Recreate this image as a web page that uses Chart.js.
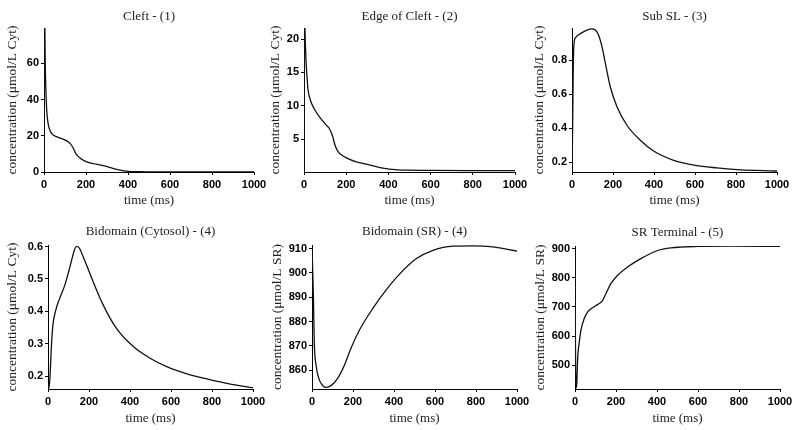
<!DOCTYPE html>
<html>
<head>
<meta charset="utf-8">
<style>
  html, body { margin: 0; padding: 0; background: #fff; }
  #wrap { position: relative; width: 800px; height: 430px; overflow: hidden; background: #fff; }
  #wrap canvas { position: absolute; }
</style>
<script src="https://cdn.jsdelivr.net/npm/chart.js@4.4.0/dist/chart.umd.min.js"></script>
</head>
<body>
<div id="wrap"></div>
<script>
// shared x axis
const timeTicks = [0, 200, 400, 600, 800, 1000];

// (1) cleft
const cleftTime = [0, 2, 4, 6, 9, 13, 18, 25, 38, 62, 93, 109, 125, 138, 149, 160, 180, 200, 250, 300, 346, 400, 450, 500, 600, 800, 1000];
const cleftConc = [0, 120, 80, 60, 45, 34, 28, 24, 21, 19.4, 18, 17.2, 15.7, 13.5, 10.7, 8.9, 7.0, 5.7, 4.3, 3.0, 1.5, 0.4, 0.15, 0.08, 0.05, 0.04, 0.03];
const cleftTicks = [0, 20, 40, 60];

// (2) edge of cleft
const edgeTime = [0, 2, 5, 8, 11, 15, 19, 27, 35, 51, 74, 106, 120, 135, 148, 160, 175, 201, 248, 304, 367, 446, 500, 600, 800, 1000];
const edgeConc = [0.1, 26, 21, 18, 15.9, 14, 12.4, 11.2, 10.4, 9.4, 8.3, 7.1, 6.6, 5.5, 4.0, 3.2, 2.7, 2.2, 1.6, 1.2, 0.7, 0.4, 0.35, 0.32, 0.3, 0.3];
const edgeTicks = [5, 10, 15, 20];

// (3) sub SL
const subTime = [0, 3, 6, 10, 18, 41, 73, 98, 122, 138, 150, 163, 187, 220, 268, 333, 400, 496, 602, 707, 805, 900, 1000];
const subConc = [0.15, 0.4, 0.75, 0.9, 0.935, 0.957, 0.978, 0.985, 0.967, 0.918, 0.86, 0.78, 0.643, 0.525, 0.418, 0.33, 0.265, 0.212, 0.182, 0.167, 0.157, 0.152, 0.149];
const subTicks = [0.2, 0.4, 0.6, 0.8];

// (4) bidomain cytosol
const cytTime = [0, 5, 10, 16, 24, 38, 57, 82, 106, 118, 128, 137, 146, 156, 168, 188, 220, 269, 334, 416, 498, 579, 677, 775, 890, 1000];
const cytConc = [0.175, 0.163, 0.2, 0.286, 0.358, 0.404, 0.44, 0.481, 0.535, 0.565, 0.588, 0.6, 0.6, 0.592, 0.574, 0.543, 0.492, 0.42, 0.347, 0.291, 0.255, 0.229, 0.207, 0.191, 0.175, 0.164];
const cytTicks = [0.2, 0.3, 0.4, 0.5, 0.6];

// (4) bidomain SR
const srTime = [0, 3, 7, 11, 20, 33, 52, 68, 93, 125, 158, 190, 231, 296, 362, 427, 508, 590, 687, 785, 883, 1000];
const srConc = [910.5, 902, 889.5, 871.6, 862, 856.6, 853.6, 852.9, 853.6, 856.6, 862, 869, 876.4, 885.3, 893.0, 899.5, 905.8, 909.3, 911, 911.1, 910.7, 909];
const srTicks = [860, 870, 880, 890, 900, 910];

// (5) SR terminal
const termTime = [0, 2, 5, 9, 13, 21, 29, 45, 62, 78, 110, 135, 151, 175, 208, 256, 321, 403, 468, 597, 760, 1000];
const termConc = [906, 600, 421, 440, 523, 580, 620, 660, 683, 694, 708, 723, 746, 780, 809, 837, 866, 894, 903, 908, 909, 908];
const termTicks = [500, 600, 700, 800, 900];

const SERIF = '"Liberation Serif", "Times New Roman", serif';
const SANS = '"Liberation Sans", Arial, sans-serif';

// room around each plot area inside its canvas
const YW = 50, XH = 45, TH = 30, PR = 22;

const panels = [
  { title: 'Cleft - (1)', time: cleftTime, conc: cleftConc, ticks: cleftTicks, min: 0, max: 79.5,
    unit: 'concentration (μmol/L Cyt)', box: [44, 28, 254, 172], titleGap: 11.6, yGap: 31.5, xGap: 28.3 },
  { title: 'Edge of Cleft - (2)', time: edgeTime, conc: edgeConc, ticks: edgeTicks, min: 0.08, max: 21.65,
    unit: 'concentration (μmol/L Cyt)', box: [304, 28, 515, 172], titleGap: 11.6, yGap: 29, xGap: 28.3 },
  { title: 'Sub SL - (3)', time: subTime, conc: subConc, ticks: subTicks, min: 0.143, max: 0.99,
    unit: 'concentration (μmol/L Cyt)', box: [572, 28, 777, 172], titleGap: 11.6, yGap: 33, xGap: 28.3 },
  { title: 'Bidomain (Cytosol) - (4)', time: cytTime, conc: cytConc, ticks: cytTicks, min: 0.16, max: 0.605,
    unit: 'concentration (μmol/L Cyt)', box: [48, 245, 253, 389], titleGap: 13.3, yGap: 35.5, xGap: 29.3 },
  { title: 'Bidomain (SR) - (4)', time: srTime, conc: srConc, ticks: srTicks, min: 852.2, max: 911.5,
    unit: 'concentration (μmol/L SR)', box: [312, 245, 517, 389], titleGap: 13.3, yGap: 35, xGap: 29.3 },
  { title: 'SR Terminal - (5)', time: termTime, conc: termConc, ticks: termTicks, min: 418, max: 909.5,
    unit: 'concentration (μmol/L SR)', box: [575, 246, 780, 389], titleGap: 13.3, yGap: 35, xGap: 29.3 },
];

const wrap = document.getElementById('wrap');

function makePanel(p) {
  const [L, T, R, B] = p.box;
  const w = R - L + YW + PR;
  const h = B - T + TH + XH;
  const canvas = document.createElement('canvas');
  canvas.width = w;
  canvas.height = h;
  canvas.style.left = (L - YW) + 'px';
  canvas.style.top = (T - TH) + 'px';
  canvas.style.width = w + 'px';
  canvas.style.height = h + 'px';
  wrap.appendChild(canvas);

  const points = p.time.map((t, i) => ({ x: t, y: p.conc[i] }));

  return new Chart(canvas, {
    type: 'line',
    data: {
      datasets: [{
        data: points,
        borderColor: '#111',
        borderWidth: 1.3,
        pointRadius: 0,
        fill: false,
        cubicInterpolationMode: 'monotone',
      }],
    },
    options: {
      responsive: false,
      animation: false,
      devicePixelRatio: 1,
      layout: { padding: { left: 0, top: 0, right: PR, bottom: 0 } },
      plugins: {
        legend: { display: false },
        tooltip: { enabled: false },
        title: {
          display: true,
          text: p.title,
          fullSize: false,
          color: '#222',
          font: { family: SERIF, size: 13, weight: 'normal', lineHeight: 1.2 },
          padding: { top: TH - p.titleGap - 7.8, bottom: p.titleGap - 7.8 },
        },
      },
      scales: {
        x: {
          type: 'linear',
          min: 0,
          max: 1000,
          afterBuildTicks: (s) => { s.ticks = timeTicks.map((v) => ({ value: v })); },
          afterFit: (s) => { s.height = XH; },
          ticks: {
            autoSkip: false,
            maxRotation: 0,
            padding: 3,
            color: '#000',
            font: { family: SANS, size: 11, weight: 'bold' },
            callback: (v) => String(v),
          },
          grid: { drawOnChartArea: false, tickLength: 3, color: '#000' },
          border: { color: '#000', width: 1 },
          title: {
            display: true,
            text: 'time (ms)',
            color: '#222',
            font: { family: SERIF, size: 13, lineHeight: 1.2 },
            padding: { top: 0, bottom: XH - p.xGap - 7.8 },
          },
        },
        y: {
          type: 'linear',
          min: p.min,
          max: p.max,
          afterBuildTicks: (s) => { s.ticks = p.ticks.map((v) => ({ value: v })); },
          afterFit: (s) => { s.width = YW; },
          ticks: {
            autoSkip: false,
            padding: 2,
            color: '#000',
            font: { family: SANS, size: 11, weight: 'bold' },
            callback: (v) => String(v),
          },
          grid: { drawOnChartArea: false, tickLength: 3, color: '#000' },
          border: { color: '#000', width: 1 },
          title: {
            display: true,
            text: p.unit,
            color: '#222',
            font: { family: SERIF, size: 13.5, lineHeight: 1.2 },
            padding: { top: YW - p.yGap - 8.1, bottom: 0 },
          },
        },
      },
    },
  });
}

panels.forEach(makePanel);
</script>
</body>
</html>
